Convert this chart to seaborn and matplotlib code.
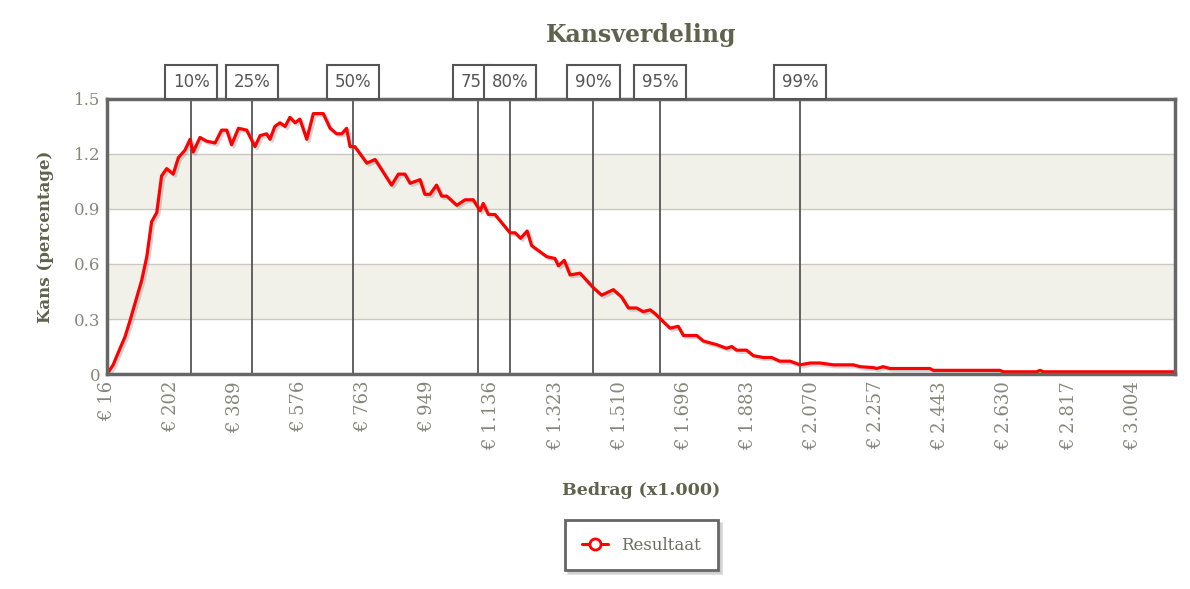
import pandas as pd
import seaborn as sns
import matplotlib.pyplot as plt
import matplotlib.patheffects as pe
from matplotlib.lines import Line2D

# Bedrag (x1.000) and kans (%)
bedrag = [20, 34, 54, 68, 83, 103, 117, 132, 146, 161, 175, 190, 209, 224, 243,
          258, 267, 287, 306, 331, 350, 365, 379, 399, 423, 447, 462, 481, 491,
          505, 520, 535, 549, 564, 578, 598, 617, 646, 666, 685, 700, 714, 724,
          738, 773, 797, 845, 865, 884, 899, 928, 942, 957, 976, 991, 1006,
          1035, 1059, 1083, 1103, 1112, 1127, 1146, 1190, 1205, 1221, 1240,
          1253, 1297, 1321, 1331, 1348, 1365, 1394, 1433, 1457, 1491, 1515,
          1535, 1559, 1578, 1598, 1612, 1656, 1680, 1695, 1734, 1753, 1792,
          1821, 1836, 1850, 1879, 1899, 1928, 1952, 1976, 2006, 2035, 2064,
          2093, 2132, 2190, 2210, 2248, 2258, 2277, 2297, 2413, 2423, 2617,
          2627, 2724, 2734, 2744, 3127]
kans = [0.01, 0.05, 0.14, 0.20, 0.29, 0.42, 0.51, 0.64, 0.83, 0.88, 1.08, 1.12,
        1.09, 1.18, 1.22, 1.28, 1.21, 1.29, 1.27, 1.26, 1.33, 1.33, 1.25, 1.34,
        1.33, 1.24, 1.30, 1.31, 1.28, 1.35, 1.37, 1.35, 1.40, 1.37, 1.39, 1.28,
        1.42, 1.42, 1.34, 1.31, 1.31, 1.34, 1.24, 1.24, 1.15, 1.17, 1.03, 1.09,
        1.09, 1.04, 1.06, 0.98, 0.98, 1.03, 0.97, 0.97,
        0.92, 0.95, 0.95, 0.89, 0.93, 0.87, 0.87, 0.77, 0.77, 0.74, 0.78,
        0.70, 0.64, 0.63, 0.59, 0.62, 0.54, 0.55, 0.47, 0.43, 0.46, 0.42,
        0.36, 0.36, 0.34, 0.35, 0.33, 0.25, 0.26, 0.21, 0.21, 0.18, 0.16,
        0.14, 0.15, 0.13, 0.13, 0.10, 0.09, 0.09, 0.07, 0.07, 0.05, 0.06,
        0.06, 0.05, 0.05, 0.04, 0.035, 0.03, 0.04, 0.03, 0.03, 0.02, 0.02,
        0.012, 0.012, 0.02, 0.012, 0.012]

# percentile markers ("75" is cut off by the 80% box in the original)
pct_labels = ["10%", "25%", "50%", "75", "80%", "90%", "95%", "99%"]
pct_values = [261, 438, 733, 1098, 1190, 1433, 1627, 2035]
pct_shift = [0, 0, 0, -5, 0, 0, 0, 0]

xtick_values = [16, 203, 389, 576, 763, 949, 1136, 1323, 1510, 1696, 1883,
                2070, 2257, 2443, 2630, 2817, 3004]
xtick_labels = ["€ 16", "€ 202", "€ 389", "€ 576", "€ 763", "€ 949", "€ 1.136",
                "€ 1.323", "€ 1.510", "€ 1.696", "€ 1.883", "€ 2.070", "€ 2.257",
                "€ 2.443", "€ 2.630", "€ 2.817", "€ 3.004"]
ytick_values = [0, 0.3, 0.6, 0.9, 1.2, 1.5]
ytick_labels = ["0", "0.3", "0.6", "0.9", "1.2", "1.5"]

df = pd.DataFrame({"bedrag": bedrag, "kans": kans})

sns.set_style("white")
plt.rcParams["font.family"] = ["DejaVu Serif", "DejaVu Sans"]

title_col = "#5f624d"
tick_col = "#85877a"
frame_col = "#666666"

fig = plt.figure(figsize=(11.9, 5.89), dpi=100)
ax = fig.add_axes([0.0899, 0.365, 0.8975, 0.467])

# alternating bands + grid
for lo, hi in [(0.3, 0.6), (0.9, 1.2)]:
    ax.axhspan(lo, hi, color="#f1f1ea", zorder=0, lw=0)
for yv in ytick_values[1:-1]:
    ax.axhline(yv, color="#c9c9be", lw=1, zorder=1)

for xv in pct_values:
    ax.axvline(xv, color="#555555", lw=1.3, zorder=2)

sns.lineplot(data=df, x="bedrag", y="kans", ax=ax, color="#ff0000", lw=2.3,
             zorder=3,
             path_effects=[pe.SimpleLineShadow(offset=(1.5, -1.5), shadow_color="#888888", alpha=0.35),
                           pe.Normal()])

for i, (lab, xv) in enumerate(zip(pct_labels, pct_values)):
    ax.annotate(lab, xy=(xv, 1.0), xycoords=("data", "axes fraction"),
                xytext=(pct_shift[i], 5.6), textcoords="offset points",
                ha="center", va="bottom", fontsize=12, color="#555555",
                family="DejaVu Sans", annotation_clip=False, zorder=6 + i,
                bbox=dict(boxstyle="square,pad=0.47", fc="white", ec="#555555", lw=1.5))

ax.set_xlim(16, 3127)
ax.set_ylim(0, 1.5)
ax.set_xticks(xtick_values)
ax.set_xticklabels(xtick_labels, rotation=90, fontsize=13, color=tick_col)
ax.set_yticks(ytick_values)
ax.set_yticklabels(ytick_labels, fontsize=12, color=tick_col)
ax.tick_params(length=0, pad=5)
ax.set_xlabel("")
ax.set_ylabel("")
for sp in ax.spines.values():
    sp.set_color(frame_col)
    sp.set_linewidth(2.5)
    sp.set_zorder(5)

fig.text(0.539, 0.94, "Kansverdeling", ha="center", va="center",
         fontsize=17, fontweight="bold", color=title_col)
fig.text(0.038, 0.598, "Kans (percentage)", ha="center", va="center",
         rotation=90, fontsize=12, fontweight="bold", color=title_col)
fig.text(0.539, 0.168, "Bedrag (x1.000)", ha="center", va="center",
         fontsize=12.5, fontweight="bold", color=title_col)

handle = Line2D([], [], color="#ff0000", lw=2.2, marker="o", markersize=8,
                markerfacecolor="white", markeredgecolor="#ff0000", markeredgewidth=2)
leg = fig.legend([handle], ["Resultaat"], loc="center",
                 bbox_to_anchor=(0.539, 0.0747), fontsize=12, frameon=True,
                 fancybox=False, shadow={"color": "#bbbbbb", "alpha": 0.5},
                 handlelength=1.6, borderpad=1.0, labelcolor="#6b6d5e")
leg.get_frame().set_edgecolor(frame_col)
leg.get_frame().set_linewidth(2)

plt.savefig("out.png", dpi=100)
